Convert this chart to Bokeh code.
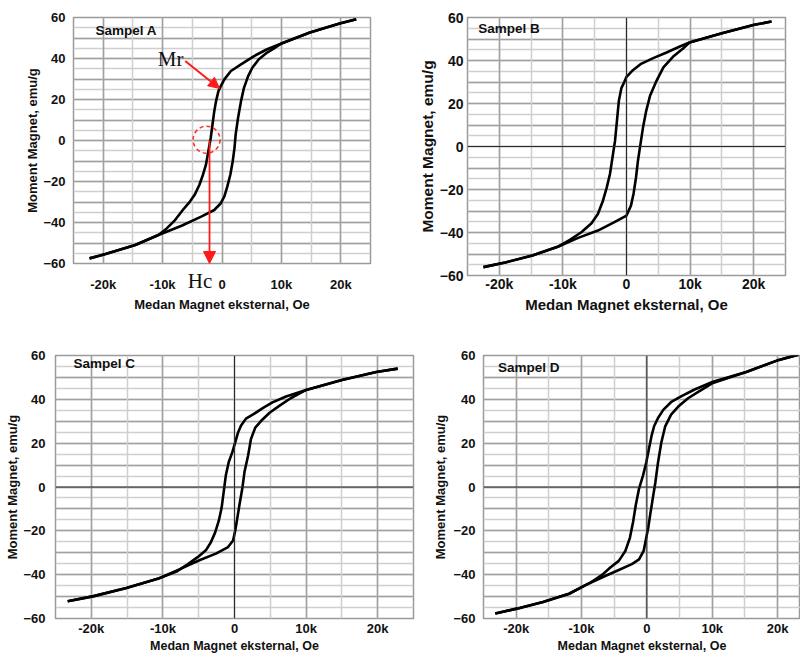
from bokeh.plotting import figure
from bokeh.layouts import column, row
from bokeh.models import (FixedTicker, Span, Label, Arrow, NormalHead, Range1d,
                          LinearAxis, Grid)
from bokeh.embed import file_html
from bokeh.resources import INLINE

# ---------------- data (field in kOe, moment in emu/g) ----------------
x_ticks = [-20, -10, 0, 10, 20]
x_tick_labels = ["-20k", "-10k", "0", "10k", "20k"]
y_ticks = [-60, -40, -20, 0, 20, 40, 60]
panel_names = ["Sampel A", "Sampel B", "Sampel C", "Sampel D"]

a_up_h = [22.6, 19.8, 14.8, 10.0, 7.6, 5.4, 3.2, 1.5, 0.4, -0.2, -0.6, -1.0, -1.3, -1.6, -1.9, -2.3, -2.7, -3.2, -3.8, -4.6, -5.4, -6.6, -7.9, -9.3, -10.7, -14.6, -19.6, -22.3]
a_up_m = [59.2, 57.1, 52.7, 47.3, 44.5, 41.2, 37.1, 33.9, 29.8, 26.5, 24.1, 19.2, 14.3, 7.8, 1.2, -5.3, -11.8, -16.7, -21.6, -26.5, -29.8, -33.9, -38.8, -42.9, -46.1, -51.0, -55.4, -57.5]
a_lo_h = [-22.3, -19.6, -14.6, -10.7, -6.8, -3.5, -1.3, -0.2, 0.4, 0.9, 1.4, 1.8, 2.1, 2.3, 2.7, 3.2, 3.7, 4.4, 5.1, 6.2, 7.6, 8.7, 10.0, 14.8, 19.8, 22.6]
a_lo_m = [-57.5, -55.4, -51.0, -46.1, -41.6, -37.1, -33.9, -30.6, -27.3, -22.4, -16.7, -10.2, -3.7, 2.9, 11.0, 19.2, 25.7, 31.4, 35.5, 39.6, 42.9, 44.8, 47.3, 52.7, 57.1, 59.2]

b_up_h = [22.8, 20.1, 15.0, 9.9, 8.3, 6.3, 4.2, 2.2, 0.9, 0.0, -0.5, -0.8, -1.2, -1.5, -1.8, -2.2, -2.6, -3.1, -3.7, -4.5, -5.5, -7.1, -8.9, -10.7, -14.8, -18.9, -22.5]
b_up_m = [58.1, 56.6, 52.7, 48.4, 46.4, 43.7, 41.1, 38.3, 35.2, 32.4, 29.0, 27.2, 21.3, 12.0, 2.7, -5.0, -12.8, -19.0, -25.2, -31.4, -35.7, -39.9, -43.4, -46.5, -50.7, -53.8, -56.1]
b_lo_h = [-22.5, -18.9, -14.8, -10.7, -7.6, -4.5, -1.9, 0.0, 0.7, 1.1, 1.5, 1.8, 2.2, 2.6, 3.1, 3.7, 4.6, 5.8, 7.3, 8.8, 9.9, 15.0, 20.1, 22.8]
b_lo_m = [-56.1, -53.8, -50.7, -46.5, -42.5, -39.1, -35.2, -32.1, -27.5, -22.1, -14.3, -6.6, 1.2, 8.9, 16.6, 23.6, 29.8, 36.8, 41.7, 45.3, 48.4, 52.7, 56.6, 58.1]

c_up_h = [22.8, 19.8, 15.0, 10.0, 7.2, 5.3, 4.0, 2.6, 1.6, 0.9, 0.5, 0.1, -0.3, -0.8, -1.2, -1.5, -1.8, -2.2, -2.7, -3.3, -4.0, -5.1, -6.5, -8.1, -10.5, -15.1, -19.8, -23.3]
c_up_m = [54.0, 52.5, 48.8, 44.3, 41.3, 38.6, 36.1, 33.1, 31.2, 27.9, 24.9, 20.4, 15.9, 11.4, 5.5, -2.0, -9.5, -15.5, -20.7, -25.2, -28.9, -31.9, -35.2, -38.6, -41.6, -46.1, -49.9, -52.1]
c_lo_h = [-23.3, -19.8, -15.1, -10.5, -7.7, -4.9, -2.6, -0.9, -0.2, 0.1, 0.4, 0.7, 1.1, 1.4, 1.9, 2.3, 2.9, 3.7, 4.9, 6.3, 7.9, 10.0, 15.0, 19.8, 22.8]
c_lo_m = [-52.1, -49.9, -46.1, -41.6, -37.6, -33.4, -30.4, -27.4, -24.4, -20.0, -14.0, -8.0, -0.5, 7.0, 14.4, 21.9, 27.1, 30.1, 33.9, 37.1, 40.6, 44.3, 48.8, 52.5, 54.0]

d_up_h = [23.2, 20.2, 15.2, 10.1, 7.3, 5.3, 3.8, 2.5, 1.7, 1.1, 0.7, 0.3, -0.1, -0.6, -1.2, -1.7, -2.1, -2.6, -3.3, -4.3, -5.6, -6.8, -8.8, -11.9, -15.9, -19.9, -23.2]
d_up_m = [60.4, 58.0, 52.5, 48.0, 44.5, 41.5, 39.0, 35.2, 31.5, 27.7, 23.2, 17.2, 11.2, 5.2, -0.7, -8.2, -15.7, -23.2, -29.2, -33.7, -36.7, -40.0, -43.9, -48.7, -52.5, -55.5, -57.7]
d_lo_h = [-23.2, -19.9, -15.9, -11.9, -8.8, -6.3, -4.3, -2.3, -1.2, -0.5, -0.1, 0.2, 0.5, 0.9, 1.3, 1.7, 2.2, 2.8, 3.7, 4.8, 6.3, 8.1, 10.1, 15.2, 20.2, 23.2]
d_lo_m = [-57.7, -55.5, -52.5, -48.7, -43.9, -40.5, -37.9, -35.2, -33.0, -29.2, -23.2, -18.7, -12.7, -5.2, 2.2, 11.2, 20.2, 27.7, 33.0, 36.7, 40.5, 43.9, 47.5, 52.5, 58.0, 60.4]

# annotation anchors for Sampel A
mr_point = (-0.4, 25.4)
hc_field = -2.1

FONT = "Liberation Sans"
SERIF = "Liberation Serif"


def style_axis(ax, tick_fs, lab_fs):
    ax.axis_line_color = None
    ax.major_tick_line_color = None
    ax.minor_tick_line_color = None
    ax.major_tick_out = 0
    ax.minor_tick_out = 0
    ax.major_tick_in = 0
    ax.minor_tick_in = 0
    ax.major_label_text_font = FONT
    ax.major_label_text_font_style = "bold"
    ax.major_label_text_font_size = tick_fs
    ax.major_label_text_color = "#111111"
    ax.axis_label_text_font = FONT
    ax.axis_label_text_font_style = "bold"
    ax.axis_label_text_font_size = lab_fs
    ax.axis_label_text_color = "#111111"


def make_panel(name, up_h, up_m, lo_h, lo_m, width, height, bl, br, bt, bb, xr,
               tick_fs, xlab_fs, ylab_fs, tick_std, lab_std, xtick_std, xlab_std,
               zero_lines, name_xy, hc_axis=None):
    p = figure(width=width, height=height, x_range=Range1d(*xr), y_range=Range1d(-60, 60),
               output_backend="svg", toolbar_location=None, x_axis_location=None,
               min_border_left=bl, min_border_right=br, min_border_top=bt, min_border_bottom=bb)
    p.align = "start"
    p.background_fill_color = "white"
    p.border_fill_color = "white"
    p.outline_line_color = "#9a9a9a"
    p.outline_line_width = 1.5

    if hc_axis is not None:
        p.add_layout(hc_axis, "below")
    xax = LinearAxis(ticker=FixedTicker(ticks=x_ticks),
                     major_label_overrides={t: s for t, s in zip(x_ticks, x_tick_labels)},
                     axis_label="Medan Magnet eksternal, Oe")
    p.add_layout(xax, "below")
    style_axis(xax, tick_fs, xlab_fs)
    xax.major_label_standoff = xtick_std
    xax.axis_label_standoff = xlab_std

    yax = p.yaxis[0]
    yax.ticker = FixedTicker(ticks=y_ticks)
    yax.axis_label = "Moment Magnet, emu/g"
    style_axis(yax, tick_fs, ylab_fs)
    yax.major_label_standoff = tick_std
    yax.axis_label_standoff = lab_std

    for g in list(p.xgrid):
        p.center.remove(g)
    xg = Grid(dimension=0, ticker=FixedTicker(ticks=list(range(-20, 21, 10)),
                                              minor_ticks=list(range(-25, 26, 5))))
    p.add_layout(xg, "center")
    p.ygrid[0].ticker = FixedTicker(ticks=list(range(-60, 61, 10)), minor_ticks=list(range(-60, 61, 5)))
    for g in (xg, p.ygrid[0]):
        g.grid_line_color = "#a0a0a0"
        g.grid_line_width = 1.5
        g.minor_grid_line_color = "#cfcfcf"
        g.minor_grid_line_width = 1.5

    if zero_lines:
        p.add_layout(Span(location=0, dimension="height", line_color="#2a2a2a", line_width=1))
        p.add_layout(Span(location=0, dimension="width", line_color="#2a2a2a", line_width=1))

    p.line(up_h, up_m, line_color="black", line_width=2.6, line_join="round")
    p.line(lo_h, lo_m, line_color="black", line_width=2.6, line_join="round")

    p.add_layout(Label(x=name_xy[0], y=name_xy[1], text=name, text_font=FONT,
                       text_font_style="bold", text_font_size="13.5px", text_color="#111111",
                       text_baseline="middle", text_align="left"))
    return p


# "Hc" sits just under panel A's frame, as an axis label of its own
hc_text_field = -3.7
hc_ax = LinearAxis(ticker=FixedTicker(ticks=[hc_text_field]),
                   major_label_overrides={hc_text_field: "Hc"})
hc_ax.axis_line_color = None
hc_ax.major_tick_line_color = None
hc_ax.minor_tick_line_color = None
hc_ax.major_tick_out = 0
hc_ax.minor_tick_out = 0
hc_ax.major_tick_in = 0
hc_ax.minor_tick_in = 0
hc_ax.major_label_text_font = SERIF
hc_ax.major_label_text_font_size = "21px"
hc_ax.major_label_text_color = "#111111"
hc_ax.major_label_standoff = 5

pA = make_panel(panel_names[0], a_up_h, a_up_m, a_lo_h, a_lo_m, 415, 318, 73, 45, 17, 55, (-25, 25),
                "13px", "13px", "13px", 8, 0, -19, 2, False, (-21.3, 53.7), hc_axis=hc_ax)
pB = make_panel(panel_names[1], b_up_h, b_up_m, b_lo_h, b_lo_m, 385, 330, 47, 15, 17, 55, (-25, 25),
                "14px", "15px", "15.5px", 4, 1, 0, 1, True, (-23.3, 54.9))
pC = make_panel(panel_names[2], c_up_h, c_up_m, c_lo_h, c_lo_m, 430, 325, 55, 17, 25, 33, (-25, 25),
                "13px", "12.5px", "13px", 10, 0, 2, 0, True, (-22.5, 56.4))
pD = make_panel(panel_names[3], d_up_h, d_up_m, d_lo_h, d_lo_m, 370, 325, 50, 0, 25, 33, (-25, 23.5),
                "13px", "12.5px", "13px", 8, 2, 2, 0, True, (-22.8, 54.6))

# ---- annotations on Sampel A ----
pA.add_layout(Arrow(end=NormalHead(size=11, fill_color="#ff1a1a", line_color="#ff1a1a"),
                    x_start=-6.2, y_start=38.8, x_end=mr_point[0], y_end=mr_point[1],
                    line_color="#ff1a1a", line_width=2))
pA.add_layout(Arrow(end=NormalHead(size=12, fill_color="#ff1a1a", line_color="#ff1a1a"),
                    x_start=hc_field, y_start=0, x_end=hc_field, y_end=-60,
                    line_color="#ff1a1a", line_width=1.8))
pA.scatter([-2.6], [0.4], marker="circle", size=27, fill_alpha=0,
           line_color="#ff2a2a", line_width=1.5, line_dash="4 3")
pA.add_layout(Label(x=-10.8, y=39.8, text="Mr", text_font=SERIF, text_font_size="21px",
                    text_color="#111111", text_baseline="middle", text_align="left"))

layout = column(row(pA, pB), row(pC, pD))
open("out.html", "w").write(file_html(layout, INLINE))
